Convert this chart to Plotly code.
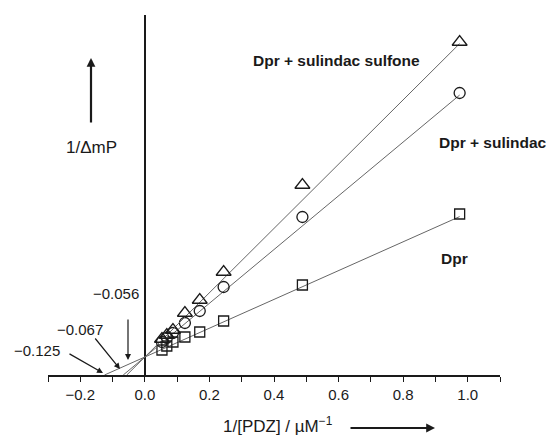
import plotly.graph_objects as go

# ---- data ----
x_inv_pdz = [0.975, 0.488, 0.244, 0.170, 0.124, 0.087, 0.068, 0.053]
y_dpr = [1.61, 0.90, 0.54, 0.43, 0.38, 0.33, 0.29, 0.25]
y_sulindac = [2.82, 1.58, 0.88, 0.64, 0.52, 0.42, 0.37, 0.33]
y_sulfone = [3.33, 1.90, 1.03, 0.75, 0.62, 0.45, 0.40, 0.36]
series_names = ["Dpr", "Dpr + sulindac", "Dpr + sulindac sulfone"]
x_intercepts = [-0.125, -0.067, -0.056]
y_intercept = 0.18
x_tick_vals = [-0.2, 0.0, 0.2, 0.4, 0.6, 0.8, 1.0]
x_tick_text = ["\u22120.2", "0.0", "0.2", "0.4", "0.6", "0.8", "1.0"]

FONT = "Liberation Sans, Arial, sans-serif"
INK = "#1a1a1a"

fig = go.Figure()

symbols = ["square-open", "circle-open", "triangle-up-open"]
sizes = [10, 11, 13]
ys = [y_dpr, y_sulindac, y_sulfone]
x_end = max(x_inv_pdz)
for name, xi, yv, sym, sz in zip(series_names, x_intercepts, ys, symbols, sizes):
    slope = -y_intercept / xi
    fig.add_trace(go.Scatter(
        x=[xi, x_end], y=[0, y_intercept + slope * x_end],
        mode="lines", line=dict(color="#666666", width=1),
        showlegend=False, hoverinfo="skip"))
    fig.add_trace(go.Scatter(
        x=x_inv_pdz, y=yv, mode="markers", name=name,
        marker=dict(symbol=sym, size=sz, color=INK, line=dict(width=1.3, color=INK)),
        showlegend=False))

# plot area in page pixels (page has an 8px body margin)
OFF = 8
W, H = 554, 437
L, R, T, B = 48, 500, 15, 375


def dom(px, py):
    return (px - L) / (R - L), (B - py) / (B - T)


ann = []


def text(px, py, s, size=16, bold=False, xanchor="center"):
    x, y = dom(px, py)
    ann.append(dict(x=x, y=y, xref="x domain", yref="y domain", text=f"<b>{s}</b>" if bold else s,
                    showarrow=False, xanchor=xanchor, yanchor="middle",
                    font=dict(family=FONT, size=size, color=INK)))


def arrow(tx, ty, hx, hy, width=1.2, head=2, size=1.0):
    x, y = dom(hx, hy)
    ax, ay = dom(tx, ty)
    ann.append(dict(x=x, y=y, ax=ax, ay=ay, xref="x domain", yref="y domain",
                    axref="x domain", ayref="y domain", text="", showarrow=True,
                    arrowhead=head, arrowsize=size, arrowwidth=width, arrowcolor=INK))


# series labels
text(251, 60, "Dpr + sulindac sulfone", size=15.5, bold=True, xanchor="left")
text(437, 142, "Dpr + sulindac", size=15.5, bold=True, xanchor="left")
text(439, 258, "Dpr", size=15.5, bold=True, xanchor="left")

# intercept labels and arrows
text(116, 293, "\u22120.056", size=15)
text(80, 329, "\u22120.067", size=15)
text(37, 350, "\u22120.125", size=15)
arrow(128, 318, 128, 360)
arrow(94, 337, 120, 369)
arrow(68, 353, 103, 373)

# axis titles with arrows
text(91, 147, "1/\u0394mP", size=17)
arrow(91, 124, 91, 58, width=2.2, size=0.8)
text(278, 425, "1/[PDZ] / \u00b5M<sup>\u22121</sup>", size=17)
arrow(349, 428, 435, 428, width=2.2, size=0.8)

fig.update_layout(
    width=W - OFF, height=H - OFF,
    margin=dict(l=L - OFF, r=W - R, t=T - OFF, b=H - B),
    paper_bgcolor="white", plot_bgcolor="white",
    font=dict(family=FONT, size=15, color=INK),
    annotations=ann,
    xaxis=dict(range=[-0.3, 1.1], showgrid=False, zeroline=True, zerolinecolor=INK,
               zerolinewidth=1.6, showline=True, linecolor=INK, linewidth=1.6,
               ticks="outside", ticklen=5, tickwidth=1.3, tickcolor=INK,
               tickvals=x_tick_vals, ticktext=x_tick_text,
               minor=dict(dtick=0.1, tick0=0, ticks="outside", ticklen=5, tickwidth=1.3, tickcolor=INK),
               tickfont=dict(family=FONT, size=15, color=INK)),
    yaxis=dict(range=[0, 3.6], showgrid=False, zeroline=False, showline=False,
               showticklabels=False, ticks=""),
)

fig.write_html("out.html")
